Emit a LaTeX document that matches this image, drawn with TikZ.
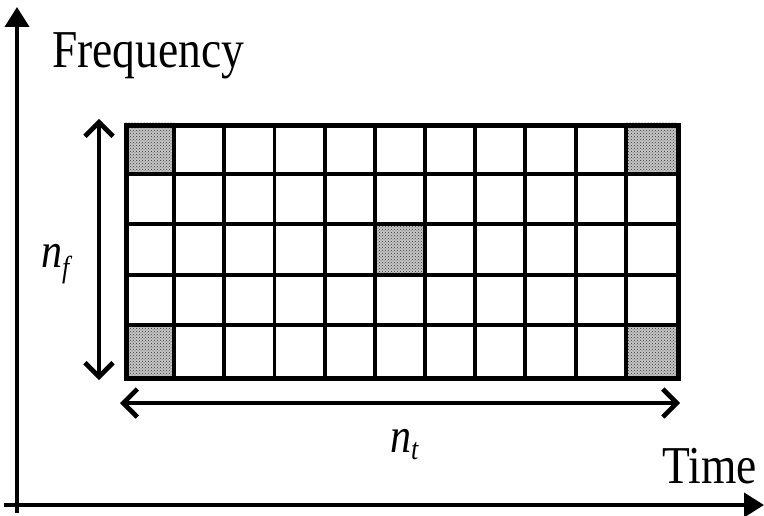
\documentclass[tikz,border=0pt]{standalone}
\usepackage{fontspec}
\setmainfont{Liberation Serif}
\usetikzlibrary{arrows.meta,patterns}
\newcommand{\tall}[1]{\scalebox{1}[1.17]{#1}}
\newcommand{\subs}[1]{\fontsize{26}{26}\selectfont\textit{#1}}
\tikzset{
  axis/.style={line width=4pt,-{Triangle[length=20pt,width=24pt]}},
  dim/.style={line width=4.6pt,{Straight Barb[length=14pt,width=28pt,line width=4.6pt]}-{Straight Barb[length=14pt,width=28pt,line width=4.6pt]}},
  gridline/.style={line width=3.9pt},
  frame/.style={line width=4.8pt},
  lbl/.style={inner sep=0pt,font=\fontsize{45.5}{50}\selectfont},
  mlbl/.style={inner sep=0pt,font=\fontsize{42}{46}\selectfont}
}
\begin{document}
\begin{tikzpicture}[x=1pt,y=-1pt]
\useasboundingbox (0,0) rectangle (764,516);
% shaded cells (background gray then dots)
\foreach \c/\r in {0/0,10/0,5/2,0/4,10/4}{
  \fill[gray!45] ({124+\c*50.18},{123+\r*50.6}) rectangle ++(50.18,50.6);
  \fill[pattern=crosshatch dots,pattern color=black!80] ({124+\c*50.18},{123+\r*50.6}) rectangle ++(50.18,50.6);
}
% grid
\foreach \i in {1,...,10}{
  \draw[gridline] ({124+\i*50.18},123) -- ({124+\i*50.18},376);
}
\foreach \j in {1,...,4}{
  \draw[gridline] (124,{123+\j*50.6}) -- (676,{123+\j*50.6});
}
\node[draw,frame,minimum width=552pt,minimum height=253pt,inner sep=0pt,anchor=north west] (grid) at (124,123) {};
% axes
\coordinate (o1) at (17,513);
\coordinate (ytip) at (17,7);
\coordinate (o2) at (4,505);
\coordinate (xtip) at (764,505);
\draw[axis] (o1) -- (ytip);
\draw[axis] (o2) -- (xtip);
% dimension arrows
\coordinate (vt) at (99,119);
\coordinate (vb) at (99,380);
\coordinate (hl) at (120,403);
\coordinate (hr) at (680,403);
\draw[dim] (vt) -- (vb);
\draw[dim] (hl) -- (hr);
% labels
\node[lbl,anchor=base west] (freq) at (52,68) {\tall{Frequency}};
\node[lbl,anchor=base east] (time) at (757,483) {\tall{Time}};
\node[mlbl,anchor=base west] (nf) at (41,268) {\tall{\textit{n}\raisebox{-8pt}{\subs{f}}}};
\node[mlbl,anchor=base west] (nt) at (390,452) {\tall{\textit{n}\raisebox{-6pt}{\subs{t}}}};
\end{tikzpicture}
\end{document}
